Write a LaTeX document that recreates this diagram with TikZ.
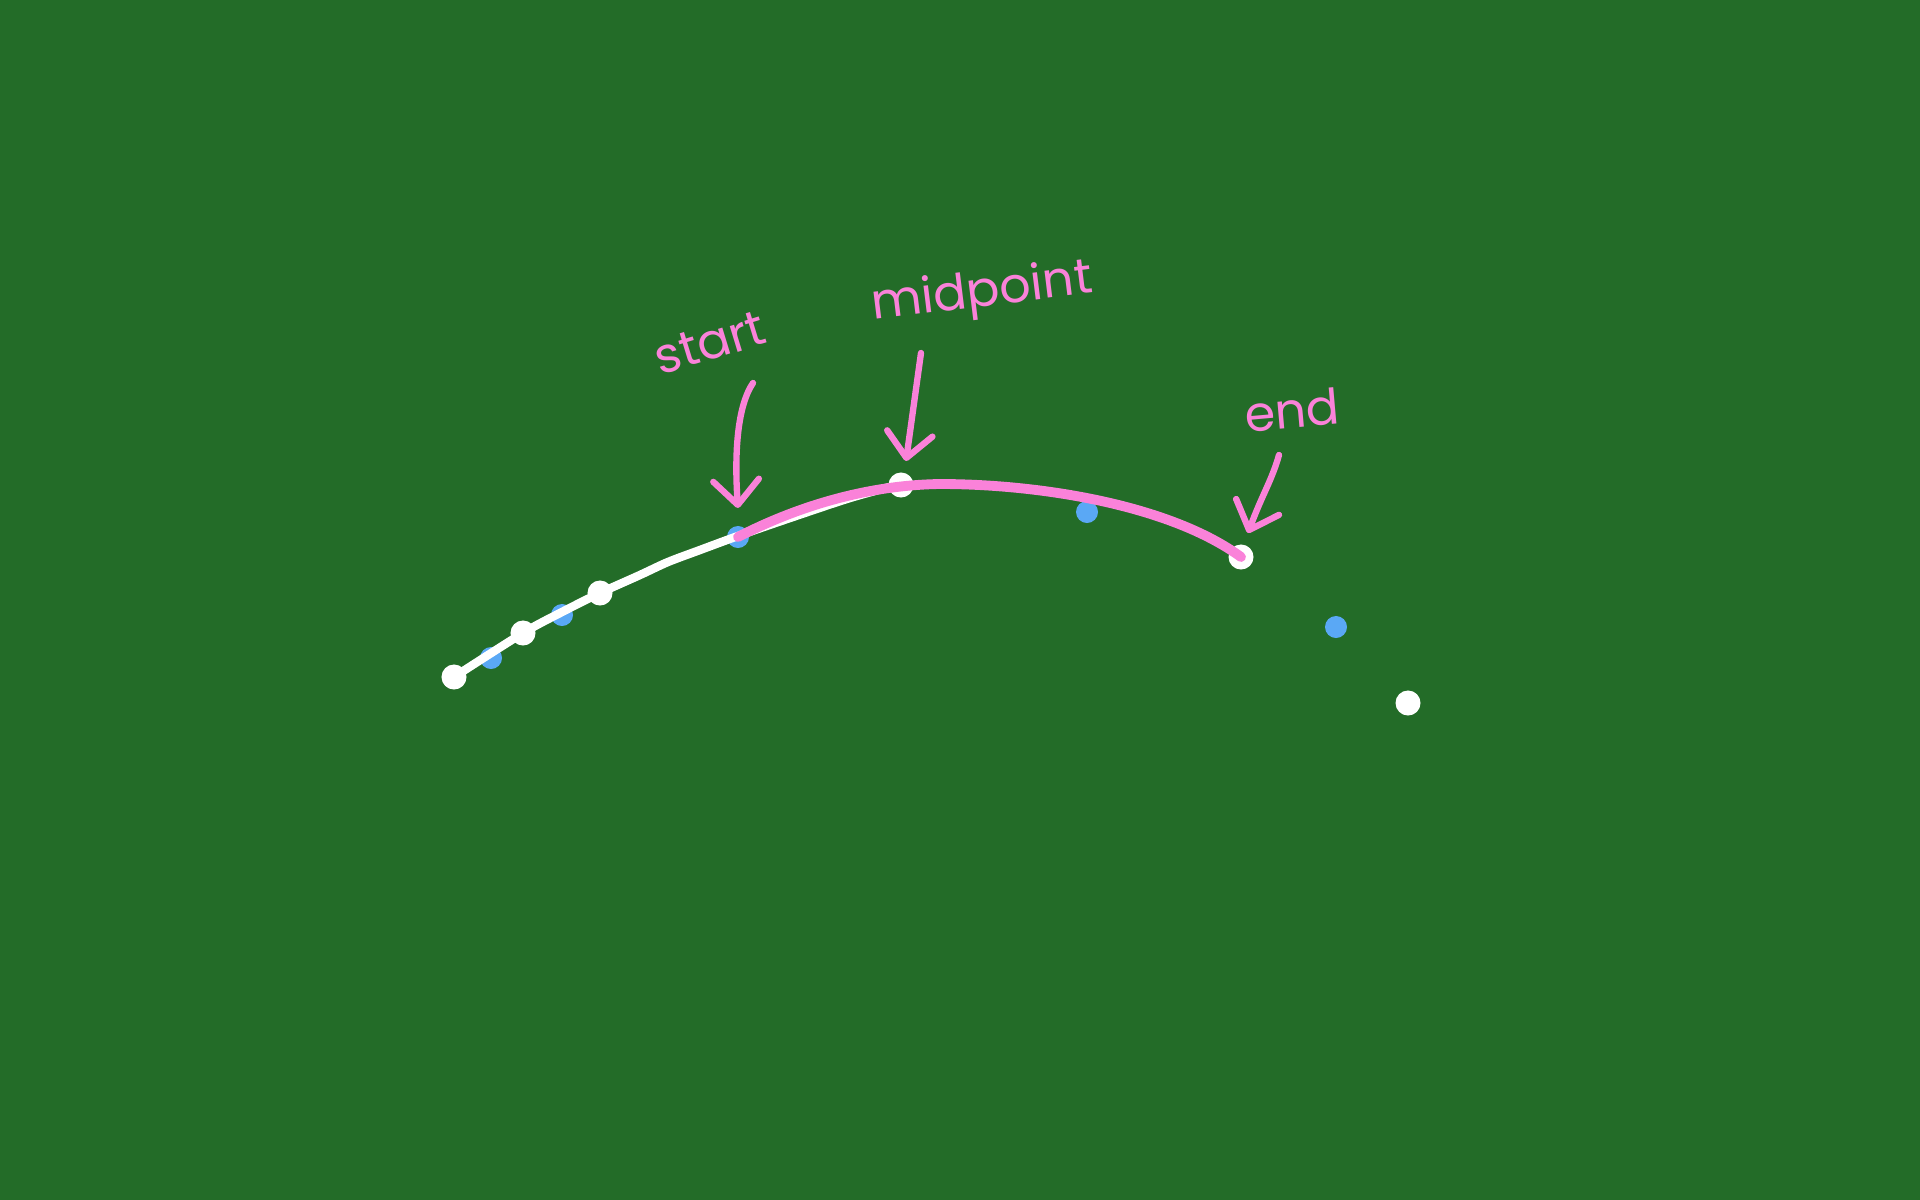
\documentclass[tikz,border=0pt]{standalone}
\usepackage{fontspec}
\setmainfont{Poppins}
\usetikzlibrary{arrows.meta}
\definecolor{bgg}{HTML}{236C28}
\definecolor{pinkc}{HTML}{FA82D9}
\definecolor{bluec}{HTML}{5AA8F5}
\tikzset{
  wdot/.style={circle,fill=white,inner sep=0pt,minimum size=0.25cm},
  bdot/.style={circle,fill=bluec,inner sep=0pt,minimum size=0.22cm},
  wline/.style={draw=white,line width=2.4pt,line cap=round,line join=round},
  pline/.style={draw=pinkc,line width=2.8pt,line cap=round},
  parrow/.style={draw=pinkc,line width=1.8pt,line cap=round,-{Straight Barb[length=7pt,width=13pt,round]}},
  lbl/.style={text=pinkc,font=\fontsize{14}{16}\selectfont,inner sep=0pt}
}
\begin{document}
\begin{tikzpicture}[x=0.01cm,y=-0.01cm]
\fill[bgg] (0,0) rectangle (1920,1200);
\useasboundingbox (0,0) rectangle (1920,1200);
% blue dots
\node[bdot] (b1) at (491,658) {};
\node[bdot] (b2) at (562,615) {};
\node[bdot] (b3) at (738,537) {};
\node[bdot] (b4) at (1087,512) {};
\node[bdot] (b5) at (1336,627) {};
% white path
\coordinate (p1) at (640,575);
\coordinate (p2) at (668,562);
\coordinate (p3) at (700,550);
\coordinate (p4) at (790,518);
\coordinate (p5) at (850,498);
\draw[wline] plot[smooth,tension=0.5] coordinates {(454,677) (523,633) (562,612) (600,593) (p1) (p2) (p3) (738,536) (p4) (p5) (901,484)};
% white dots
\node[wdot] (w1) at (454,677) {};
\node[wdot] (w2) at (523,633) {};
\node[wdot] (w3) at (600,593) {};
\node[wdot] (w4) at (901,485) {};
\node[wdot] (w5) at (1241,557) {};
\node[wdot] (w6) at (1408,703) {};
% pink curve
\draw[pline] (b3.center) .. controls (800,505) and (870,485) .. (940,484)
  .. controls (1040,484) and (1170,505) .. (w5.center);
% labels
\node[lbl,rotate=17] (lstart) at (710,343) {start};
\node[lbl,rotate=7] (lmid) at (982,294) {midpoint};
\node[lbl,rotate=5] (lend) at (1292,410) {end};
% arrows
\coordinate (ts) at (753,383);
\coordinate (tm) at (921,353);
\coordinate (te) at (1279,455);
\draw[parrow] (ts) .. controls (738,405) and (734,450) .. (738,508);
\draw[parrow] (tm) -- (906,461);
\draw[parrow] (te) .. controls (1272,480) and (1262,495) .. (1248,533);
\end{tikzpicture}
\end{document}
